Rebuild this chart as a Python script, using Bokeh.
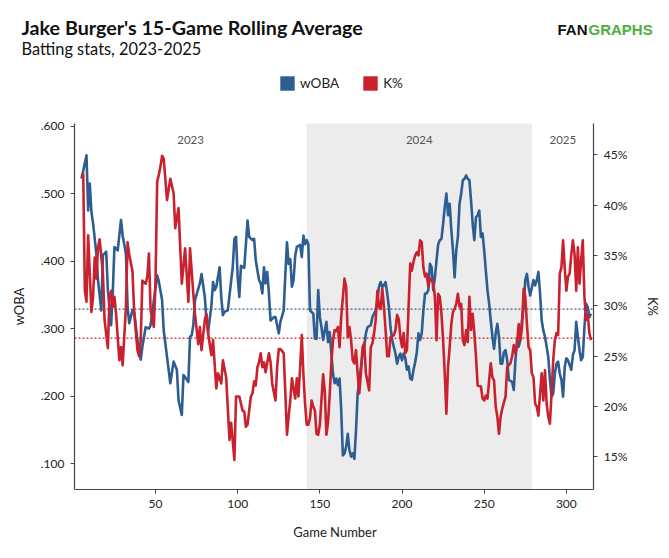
import math

from bokeh.plotting import figure
from bokeh.models import (Range1d, LinearAxis, FixedTicker, CustomJSTickFormatter,
                          BoxAnnotation, Label, Legend, LegendItem)
from bokeh.embed import file_html
from bokeh.resources import INLINE

# --- data --------------------------------------------------------------------
WOBA_GAMES = [5, 8, 9, 10, 11, 12, 14, 15, 17, 18, 20, 21, 23, 24, 25, 27, 29, 30, 32, 33,
              34, 36, 37, 39, 41, 42, 44, 46, 47, 49, 51, 52, 54, 55, 57, 59, 61, 63, 64, 66,
              67, 68, 70, 71, 72, 73, 74, 76, 77, 78, 80, 81, 82, 84, 85, 86, 87, 89, 90, 91,
              92, 94, 95, 97, 98, 99, 100, 101, 102, 104, 106, 107, 109, 110, 111, 113, 114, 115, 116, 117,
              118, 119, 120, 122, 123, 125, 126, 128, 129, 130, 131, 132, 133, 134, 135, 136, 138, 139, 140, 141,
              142, 143, 144, 146, 147, 148, 149, 150, 151, 152, 154, 155, 156, 157, 158, 159, 160, 161, 162, 163,
              164, 165, 166, 167, 168, 169, 170, 171, 172, 173, 175, 176, 177, 178, 179, 181, 182, 184, 185, 186,
              187, 188, 189, 190, 191, 192, 193, 194, 196, 197, 198, 199, 200, 201, 202, 203, 204, 205, 206, 207,
              208, 209, 210, 211, 212, 213, 214, 215, 216, 217, 218, 219, 220, 221, 222, 223, 224, 225, 226, 227,
              228, 229, 230, 231, 232, 233, 234, 235, 236, 237, 238, 239, 240, 241, 242, 243, 244, 245, 246, 247,
              248, 249, 250, 251, 252, 253, 254, 255, 256, 257, 258, 259, 260, 261, 262, 263, 264, 265, 267, 268,
              269, 270, 271, 272, 273, 274, 275, 276, 277, 278, 280, 281, 282, 283, 284, 285, 286, 287, 288, 289,
              290, 291, 292, 293, 294, 295, 296, 297, 298, 299, 300, 301, 302, 303, 304, 305, 306, 307, 308, 309,
              310, 311, 312, 313, 314, 315]
WOBA_VALUES = [.522, .557, .475, .515, .473, .456, .411, .372, .327, .409, .414, .357, .305, .355, .421, .416, .461, .438, .411, .332,
               .308, .327, .325, .283, .254, .273, .302, .300, .305, .342, .379, .370, .342, .297, .258, .219, .251, .239, .194, .172,
               .231, .228, .221, .288, .290, .305, .342, .359, .367, .381, .347, .312, .295, .334, .369, .357, .362, .391, .347, .320,
               .325, .327, .349, .391, .433, .436, .376, .347, .393, .390, .460, .436, .431, .433, .401, .372, .367, .352, .391, .367,
               .384, .352, .312, .317, .317, .293, .310, .327, .381, .428, .396, .403, .362, .372, .408, .421, .424, .406, .438, .425,
               .431, .425, .327, .322, .285, .285, .357, .317, .302, .283, .310, .280, .295, .263, .233, .219, .226, .216, .226, .179,
               .112, .115, .125, .144, .120, .110, .115, .107, .149, .204, .243, .263, .273, .293, .302, .305, .317, .327, .342, .362,
               .369, .362, .364, .369, .352, .332, .302, .283, .263, .248, .258, .263, .253, .263, .256, .239, .244, .226, .224, .239,
               .250, .265, .293, .283, .293, .327, .352, .352, .357, .396, .391, .357, .376, .401, .425, .431, .433, .455, .480, .500,
               .468, .485, .446, .416, .376, .416, .436, .485, .500, .520, .522, .527, .522, .520, .490, .455, .431, .465, .468, .475,
               .436, .441, .416, .386, .357, .337, .312, .288, .270, .293, .307, .288, .248, .248, .265, .268, .253, .224, .221, .209,
               .253, .283, .273, .283, .312, .332, .372, .381, .362, .349, .372, .364, .372, .384, .352, .312, .297, .288, .273, .258,
               .224, .199, .204, .233, .248, .251, .233, .224, .199, .243, .256, .253, .246, .239, .261, .268, .310, .288, .268, .253,
               .258, .302, .337, .332, .317, .322]

K_GAMES = [5, 6, 7, 8, 9, 10, 11, 12, 13, 14, 15, 16, 18, 19, 21, 22, 23, 24, 25, 26,
           28, 29, 30, 32, 33, 34, 36, 37, 39, 40, 41, 42, 44, 45, 46, 47, 49, 50, 51, 52,
           53, 54, 55, 57, 59, 61, 62, 64, 66, 68, 70, 71, 73, 74, 76, 77, 78, 80, 81, 82,
           84, 85, 87, 88, 90, 91, 93, 95, 96, 98, 99, 101, 103, 104, 105, 106, 108, 109, 110, 111,
           112, 113, 114, 115, 116, 117, 119, 120, 121, 123, 124, 125, 126, 128, 129, 130, 131, 132, 133, 135,
           136, 137, 138, 139, 140, 141, 142, 143, 144, 145, 146, 147, 148, 149, 150, 152, 153, 154, 155, 156,
           157, 158, 159, 160, 161, 162, 163, 165, 166, 167, 168, 169, 170, 171, 172, 173, 174, 175, 176, 177,
           178, 180, 181, 182, 183, 184, 185, 186, 187, 188, 189, 190, 191, 192, 193, 195, 196, 197, 198, 199,
           200, 201, 202, 203, 204, 205, 206, 207, 208, 209, 210, 211, 212, 213, 214, 215, 216, 217, 218, 219,
           220, 221, 222, 223, 224, 225, 226, 227, 228, 229, 230, 231, 232, 233, 234, 235, 236, 237, 238, 239,
           240, 241, 242, 243, 244, 245, 246, 248, 249, 250, 251, 252, 253, 254, 255, 256, 257, 258, 259, 260,
           261, 262, 263, 264, 265, 266, 267, 268, 269, 270, 271, 272, 273, 274, 275, 276, 277, 278, 279, 280,
           281, 282, 283, 284, 285, 286, 287, 288, 289, 290, 291, 292, 293, 294, 295, 296, 297, 298, 299, 300,
           301, 302, 303, 304, 305, 306, 307, 308, 309, 310, 311, 312, 313, 314, 315]
K_VALUES = [42.8, 43.1, 31.5, 30.4, 37.0, 33.2, 29.4, 30.9, 34.8, 32.7, 35.8, 36.6, 33.2, 28.6, 25.8, 30.9, 31.5, 29.9, 30.9, 29.2,
            24.6, 25.9, 24.1, 29.9, 36.3, 35.1, 33.4, 29.4, 25.6, 25.0, 26.6, 32.5, 32.2, 32.9, 35.2, 29.6, 27.9, 32.5, 42.3, 43.0,
            43.8, 44.9, 44.6, 40.5, 42.6, 41.2, 37.7, 39.7, 32.2, 35.7, 30.4, 35.7, 31.2, 29.2, 26.2, 27.9, 25.6, 28.6, 29.2, 27.3,
            25.1, 26.6, 21.8, 23.3, 22.3, 24.6, 22.9, 16.7, 18.4, 14.7, 21.0, 21.0, 19.6, 19.5, 18.0, 18.2, 21.0, 21.3, 22.5, 22.1,
            23.9, 24.4, 25.3, 23.9, 24.4, 23.4, 25.3, 24.4, 22.3, 20.6, 23.9, 25.7, 25.7, 25.3, 21.3, 17.2, 19.0, 20.6, 22.8, 20.8,
            22.8, 21.0, 23.9, 27.1, 23.2, 20.3, 18.2, 18.2, 18.9, 20.6, 20.0, 19.6, 17.3, 17.2, 18.2, 23.2, 21.5, 17.2, 18.5, 21.2,
            24.3, 26.6, 27.6, 27.5, 27.9, 25.9, 28.9, 32.7, 31.9, 26.9, 27.9, 26.6, 24.6, 24.3, 25.6, 23.3, 21.3, 23.3, 25.9, 26.3,
            23.3, 21.6, 25.9, 26.3, 27.3, 28.6, 31.5, 29.9, 29.7, 31.7, 29.9, 27.6, 25.0, 25.0, 26.9, 27.1, 27.6, 29.1, 28.7, 26.9,
            25.9, 27.3, 25.3, 25.6, 29.9, 34.2, 33.5, 34.4, 35.0, 35.3, 35.0, 36.5, 36.3, 33.8, 32.9, 33.2, 31.9, 32.7, 32.5, 32.4,
            30.9, 26.6, 31.2, 30.9, 29.2, 26.6, 23.3, 19.3, 23.9, 25.9, 28.2, 29.4, 29.7, 30.2, 31.2, 29.9, 30.2, 26.6, 26.1, 27.6,
            26.4, 30.9, 27.6, 29.2, 27.3, 25.0, 22.1, 22.0, 20.8, 20.6, 21.1, 20.8, 22.6, 24.3, 22.9, 22.6, 20.0, 19.0, 17.3, 19.0,
            19.8, 20.4, 21.0, 23.9, 24.1, 24.3, 25.0, 26.1, 25.3, 26.1, 28.2, 26.6, 27.9, 31.7, 30.9, 28.2, 25.9, 25.6, 23.3, 22.9,
            20.3, 20.0, 19.1, 21.3, 23.3, 20.6, 23.6, 20.3, 19.0, 18.3, 21.3, 24.6, 26.6, 27.3, 27.1, 33.2, 33.8, 36.5, 33.8, 31.5,
            32.9, 33.2, 35.1, 36.5, 35.1, 31.5, 35.8, 32.2, 34.5, 36.5, 30.9, 28.6, 29.2, 27.3, 26.6]

WOBA_AVG = 0.329
K_AVG = 26.8

SEASONS = ["2023", "2024", "2025"]
SEASON_BOUNDS = [0.7, 142, 279, 316.7]

X_TICKS = [50, 100, 150, 200, 250, 300]
WOBA_TICKS = [0.1, 0.2, 0.3, 0.4, 0.5, 0.6]
WOBA_TICK_LABELS = [".100", ".200", ".300", ".400", ".500", ".600"]
K_TICKS = [15, 20, 25, 30, 35, 40, 45]
K_TICK_LABELS = ["15%", "20%", "25%", "30%", "35%", "40%", "45%"]

# --- look -------------------------------------------------------------------
FONT = "Lato"
BLUE = "#2d5d91"
RED = "#c9212e"
GREEN = "#4caf3c"
AXIS = "#444444"
TEXT = "#222222"
NAN = float("nan")

W, H = 669, 558
# data area in page pixels; the frame itself covers the whole width and the top,
# so titles, legend and logo can sit inside it without being clipped
AREA_L, AREA_R, AREA_T = 74, 593.3, 123
BOTTOM_BORDER = 69
AREA_B = H - BOTTOM_BORDER

X_LO, X_HI = SEASON_BOUNDS[0], SEASON_BOUNDS[-1]
W_LO, W_HI = 0.0615, 0.604
K_LO, K_HI = 11.77, 48.1

gpp = (X_HI - X_LO) / (AREA_R - AREA_L)
wpp = (W_HI - W_LO) / (AREA_B - AREA_T)
kpp = (K_HI - K_LO) / (AREA_B - AREA_T)

p = figure(width=W, height=H, output_backend="svg", toolbar_location=None, title=None,
           x_range=Range1d(X_LO - AREA_L * gpp, X_HI + (W - AREA_R) * gpp),
           y_range=Range1d(W_LO, W_HI + AREA_T * wpp),
           min_border=0, min_border_bottom=BOTTOM_BORDER)
p.extra_y_ranges = {"k": Range1d(K_LO, K_HI + AREA_T * kpp)}
p.outline_line_color = None
p.xgrid.grid_line_color = None
p.ygrid.grid_line_color = None


def sy(page_y):
    # screen units inside the frame are measured upward from its bottom
    return AREA_B - page_y


# 2024 shading
p.add_layout(BoxAnnotation(left=SEASON_BOUNDS[1], right=SEASON_BOUNDS[2],
                           top=W_HI, bottom=W_LO,
                           fill_color="#ececec", fill_alpha=1.0, line_color=None,
                           level="underlay"))

# dotted averages across the data area
p.segment(x0=[X_LO], x1=[X_HI], y0=[WOBA_AVG], y1=[WOBA_AVG],
          line_color=BLUE, line_dash="2 2", line_width=1.3)
p.segment(x0=[X_LO], x1=[X_HI], y0=[K_AVG], y1=[K_AVG], y_range_name="k",
          line_color=RED, line_dash="2 2", line_width=1.3)

p.line(WOBA_GAMES, WOBA_VALUES, color=BLUE, line_width=2.6, line_join="round")
p.line(K_GAMES, K_VALUES, color=RED, line_width=2.6, line_join="round", y_range_name="k")

# season labels
for i, season in enumerate(SEASONS):
    mid = (SEASON_BOUNDS[i] + SEASON_BOUNDS[i + 1]) / 2
    p.add_layout(Label(x=mid, y=0.58, text=season, text_align="center",
                       text_baseline="middle", text_font=FONT,
                       text_font_size="11.5px", text_color="#555555"))

fmt_code = """
let best = 0;
for (let i = 0; i < tick_values.length; i++) {
    if (Math.abs(tick_values[i] - tick) < Math.abs(tick_values[best] - tick)) best = i;
}
return tick_labels[best];
"""


def style_axis(ax):
    ax.axis_line_color = AXIS
    ax.axis_line_width = 1.2
    ax.major_tick_line_color = AXIS
    ax.major_tick_out = 4
    ax.major_tick_in = 0
    ax.minor_tick_line_color = None
    ax.major_label_text_font = FONT
    ax.major_label_text_font_size = "12px"
    ax.major_label_text_color = TEXT
    ax.major_label_standoff = 6
    ax.axis_label_text_font = FONT
    ax.axis_label_text_font_size = "13px"
    ax.axis_label_text_font_style = "normal"
    ax.axis_label_text_color = TEXT
    ax.axis_label_standoff = 13


xax = p.xaxis[0]
xax.ticker = FixedTicker(ticks=X_TICKS)
xax.bounds = (X_LO, X_HI)
xax.axis_label = "Game Number"
style_axis(xax)

# the two value axes stand at the edges of the data area
yax = p.yaxis[0]
yax.ticker = FixedTicker(ticks=WOBA_TICKS)
yax.formatter = CustomJSTickFormatter(
    args=dict(tick_values=WOBA_TICKS, tick_labels=WOBA_TICK_LABELS), code=fmt_code)
yax.bounds = (W_LO, W_HI)
yax.fixed_location = X_LO
style_axis(yax)

k_axis = LinearAxis(y_range_name="k", ticker=FixedTicker(ticks=K_TICKS),
                    formatter=CustomJSTickFormatter(
                        args=dict(tick_values=K_TICKS, tick_labels=K_TICK_LABELS), code=fmt_code),
                    bounds=(K_LO, K_HI), fixed_location=X_HI)
style_axis(k_axis)
p.add_layout(k_axis, "right")

mid_y = sy((AREA_T + AREA_B) / 2)
p.add_layout(Label(x=18, y=mid_y, x_units="screen", y_units="screen", text="wOBA",
                   angle=math.pi / 2, text_align="center", text_baseline="middle",
                   text_font=FONT, text_font_size="13px", text_color=TEXT))
p.add_layout(Label(x=652, y=mid_y, x_units="screen", y_units="screen", text="K%",
                   angle=-math.pi / 2, text_align="center", text_baseline="middle",
                   text_font=FONT, text_font_size="13px", text_color=TEXT))

# header
p.add_layout(Label(x=21, y=sy(27), x_units="screen", y_units="screen",
                   text="Jake Burger's 15-Game Rolling Average", text_font=FONT,
                   text_font_size="19.7px", text_font_style="bold", text_color="#111111",
                   text_baseline="middle"))
p.add_layout(Label(x=21, y=sy(48), x_units="screen", y_units="screen",
                   text="Batting stats, 2023-2025", text_font=FONT,
                   text_font_size="16.4px", text_color="#111111", text_baseline="middle"))
p.add_layout(Label(x=557, y=sy(29), x_units="screen", y_units="screen", text="FAN",
                   text_font="Liberation Sans", text_font_size="15px",
                   text_font_style="bold", text_color="#111111", text_baseline="middle"))
p.add_layout(Label(x=588, y=sy(29), x_units="screen", y_units="screen", text="GRAPHS",
                   text_font="Liberation Sans", text_font_size="15px",
                   text_font_style="bold", text_color=GREEN, text_baseline="middle"))

blue_key = p.quad(left=[NAN], right=[NAN], top=[NAN], bottom=[NAN],
                  fill_color=BLUE, line_color=None)
red_key = p.quad(left=[NAN], right=[NAN], top=[NAN], bottom=[NAN],
                 fill_color=RED, line_color=None)
keys = Legend(items=[LegendItem(label="wOBA", renderers=[blue_key]),
                     LegendItem(label="K%", renderers=[red_key])],
              orientation="horizontal", location=(278, sy(92)),
              glyph_width=18, glyph_height=18, label_height=18, label_standoff=4, spacing=22,
              padding=0, margin=0, border_line_color=None, background_fill_alpha=0,
              label_text_font=FONT, label_text_font_size="13.5px", label_text_color=TEXT)
p.add_layout(keys)

open("out.html", "w").write(file_html(p, INLINE))
